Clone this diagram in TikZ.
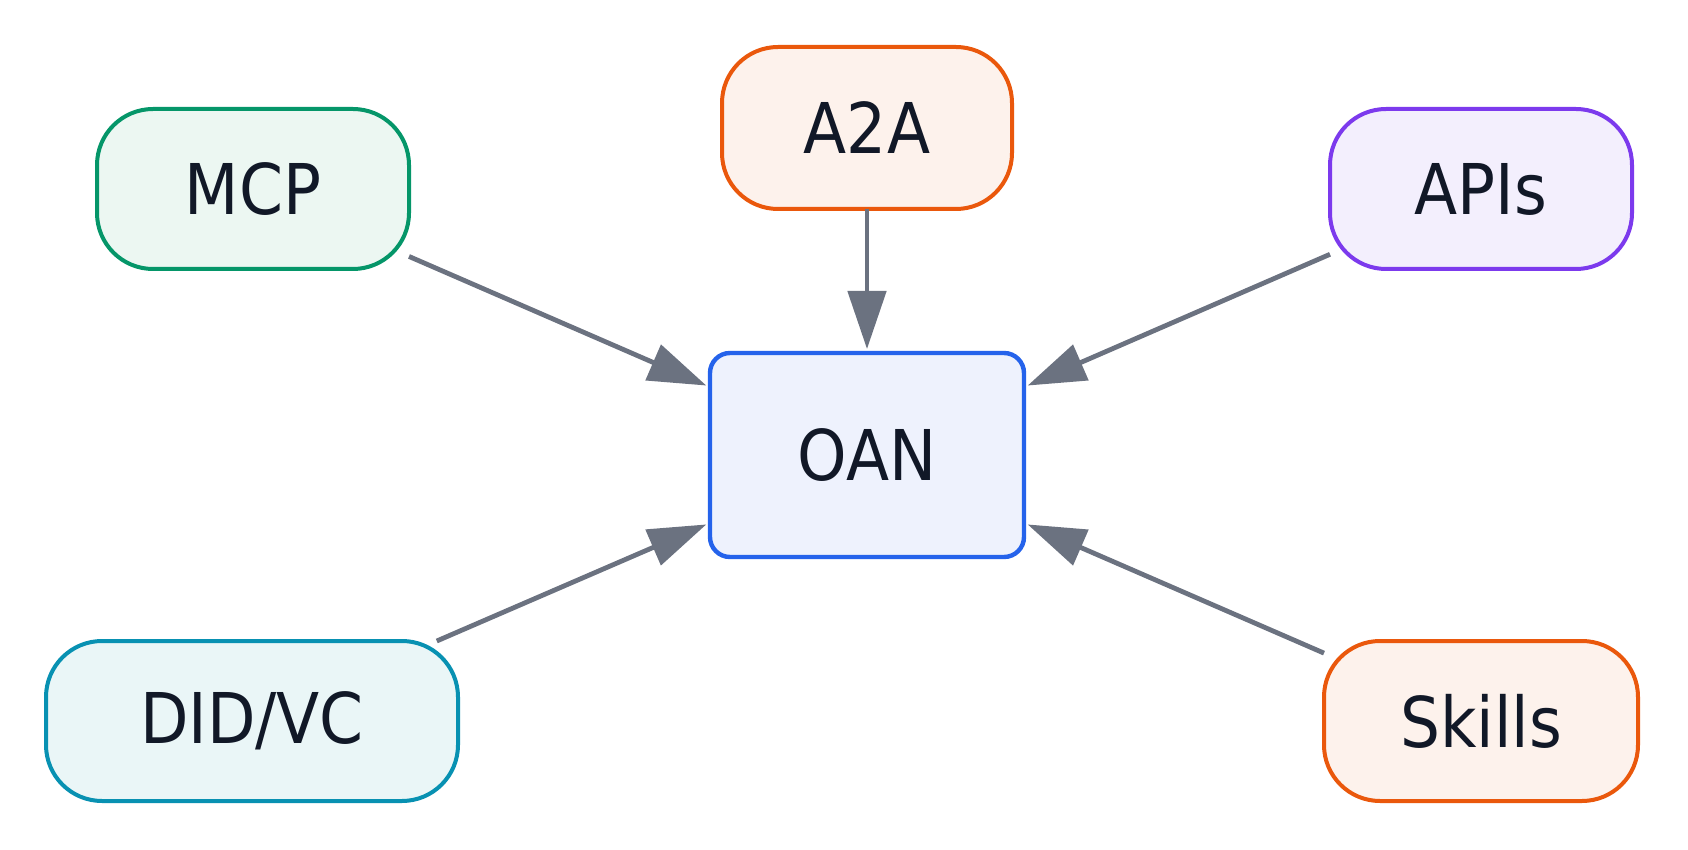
\documentclass[tikz,border=0pt]{standalone}
\usepackage{fontspec}
\setmainfont{DejaVu Sans}[FakeStretch=0.9]
\usetikzlibrary{arrows.meta}
\definecolor{txt}{HTML}{111827}
\definecolor{arr}{HTML}{6B7280}
\definecolor{gB}{HTML}{059669}\definecolor{gF}{HTML}{ECF7F2}
\definecolor{oB}{HTML}{EA580C}\definecolor{oF}{HTML}{FDF2EC}
\definecolor{pB}{HTML}{7C3AED}\definecolor{pF}{HTML}{F3EFFD}
\definecolor{bB}{HTML}{2563EB}\definecolor{bF}{HTML}{EEF2FD}
\definecolor{cB}{HTML}{0891B2}\definecolor{cF}{HTML}{EAF6F7}
\tikzset{
  box/.style={draw, line width=2pt, rounded corners=28pt, text=txt,
    font=\fontsize{35}{42}\selectfont, inner sep=0pt, outer sep=0pt},
  center/.style={draw=bB, fill=bF, line width=2.2pt, rounded corners=10pt, text=txt,
    font=\fontsize{35}{42}\selectfont, inner sep=0pt, outer sep=0pt},
  link/.style={draw=arr, line width=2.4pt, shorten >=2pt,
    -{Triangle[length=29pt,width=19pt]}},
}
\begin{document}
\begin{tikzpicture}[x=0.5pt,y=-0.5pt]
\useasboundingbox (0,0) rectangle (1688,850);
\node[center, minimum width=157pt, minimum height=102pt] (oan) at (867,455) {OAN};
\node[box, draw=gB, fill=gF, minimum width=156pt, minimum height=80pt] (mcp) at (253,189) {MCP};
\node[box, draw=oB, fill=oF, minimum width=145pt, minimum height=81pt] (a2a) at (867,128) {A2A};
\node[box, draw=pB, fill=pF, minimum width=151pt, minimum height=80pt] (apis) at (1481,189) {APIs};
\node[box, draw=cB, fill=cF, minimum width=206pt, minimum height=80pt] (did) at (252,721) {DID/VC};
\node[box, draw=oB, fill=oF, minimum width=157pt, minimum height=80pt] (skills) at (1481,721) {Skills};
\draw[link] (mcp) -- (oan);
\draw[link] (a2a) -- (oan);
\draw[link] (apis) -- (oan);
\draw[link] (did) -- (oan);
\draw[link] (skills) -- (oan);
\end{tikzpicture}
\end{document}
